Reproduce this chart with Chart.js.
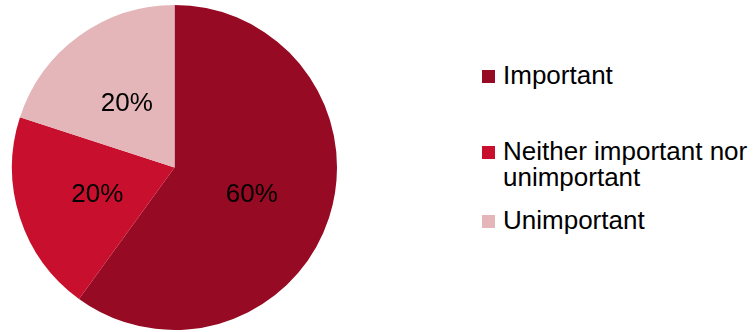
<!DOCTYPE html>
<html>
<head>
<meta charset="utf-8">
<script src="https://cdn.jsdelivr.net/npm/chart.js@4"></script>
<style>
  body { margin: 0; background: #fff; font-family: "Liberation Sans", Arial, sans-serif; }
  #wrap { position: relative; width: 756px; height: 332px; overflow: hidden; }
  #chart-box { position: absolute; left: 0; top: 0; width: 350px; height: 332px; }
  #legend { position: absolute; left: 482px; top: 0; width: 274px; }
  .item { position: absolute; left: 0; font-size: 26px; line-height: 26px; color: #000; }
  .item .box { position: absolute; left: 0; top: 8px; width: 13px; height: 13px; }
  .item .txt { display: block; margin-left: 21px; width: 252px; }
  .item:nth-child(1) { top: 62px; }
  .item:nth-child(2) { top: 138px; }
  .item:nth-child(3) { top: 207px; }
</style>
</head>
<body>
<div id="wrap">
  <div id="chart-box"><canvas id="pieChart" width="350" height="332"></canvas></div>
  <div id="legend"></div>
</div>
<script>
// chart data
const categories = ['Important', 'Neither important nor unimportant', 'Unimportant'];
const shares = [60, 20, 20];
const sliceColors = ['#960a23', '#c8102e', '#e4b6b9'];

// draw the percentage inside each slice
const sliceLabels = {
  id: 'sliceLabels',
  afterDatasetsDraw(chart) {
    const ctx = chart.ctx;
    const meta = chart.getDatasetMeta(0);
    ctx.save();
    ctx.font = '26px "Liberation Sans", Arial, sans-serif';
    ctx.fillStyle = '#000';
    ctx.textAlign = 'center';
    ctx.textBaseline = 'alphabetic';
    meta.data.forEach((arc, i) => {
      const pos = arc.tooltipPosition();
      ctx.fillText(shares[i] + '%', pos.x, pos.y + 9);
    });
    ctx.restore();
  }
};

new Chart(document.getElementById('pieChart'), {
  type: 'pie',
  data: {
    labels: categories,
    datasets: [{
      data: shares,
      backgroundColor: sliceColors,
      borderWidth: 0
    }]
  },
  options: {
    responsive: false,
    animation: false,
    layout: { padding: { top: 5, bottom: 2, left: 12, right: 13 } },
    plugins: {
      legend: { display: false },
      tooltip: { enabled: false }
    }
  },
  plugins: [sliceLabels]
});

// legend on the right
const legend = document.getElementById('legend');
legend.innerHTML = categories.map((name, i) => {
  return `<div class="item"><span class="box" style="background:${sliceColors[i]}"></span><span class="txt">${name}</span></div>`;
}).join('');
</script>
</body>
</html>
